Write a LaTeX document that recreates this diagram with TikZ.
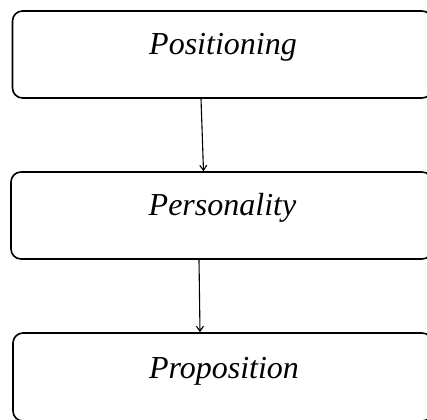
\documentclass[tikz,border=0pt]{standalone}
\usepackage{fontspec}
\setmainfont{Liberation Serif}
\usetikzlibrary{calc,arrows.meta}
\begin{document}
\begin{tikzpicture}[x=1pt,y=1pt,
  stagebox/.style={draw=black, line width=1.6pt, rounded corners=10pt, inner sep=0pt, minimum height=87pt},
  stagelabel/.style={font=\fontsize{32}{38}\selectfont\itshape, anchor=base, inner sep=0pt},
  flow/.style={draw=black, line width=1.1pt, -{Straight Barb[length=5pt,width=7pt,line width=1.1pt]}}]
\useasboundingbox (0,0) rectangle (427,-419);
\clip (0,0) rectangle (427,-419);

% the three stages (they run past the right edge)
\node[stagebox, minimum width=419.5pt] (pos) at (222.25,-54.5) {};
\node[stagebox, minimum width=421pt] (per) at (221.5,-215.5) {};
\node[stagebox, minimum width=419pt, minimum height=88pt] (pro) at (222.5,-377) {};

% stage names
\node[stagelabel] (posname) at (223,-55) {Positioning};
\node[stagelabel] (pername) at (222.5,-215) {Personality};
\node[stagelabel] (proname) at (224,-378) {Proposition};

% flow between stages
\draw[flow] ([xshift=-21.25pt]pos.south) -- ([xshift=-18pt]per.north);
\draw[flow] ([xshift=-22.5pt]per.south) -- ([xshift=-22.5pt]pro.north);
\end{tikzpicture}
\end{document}
